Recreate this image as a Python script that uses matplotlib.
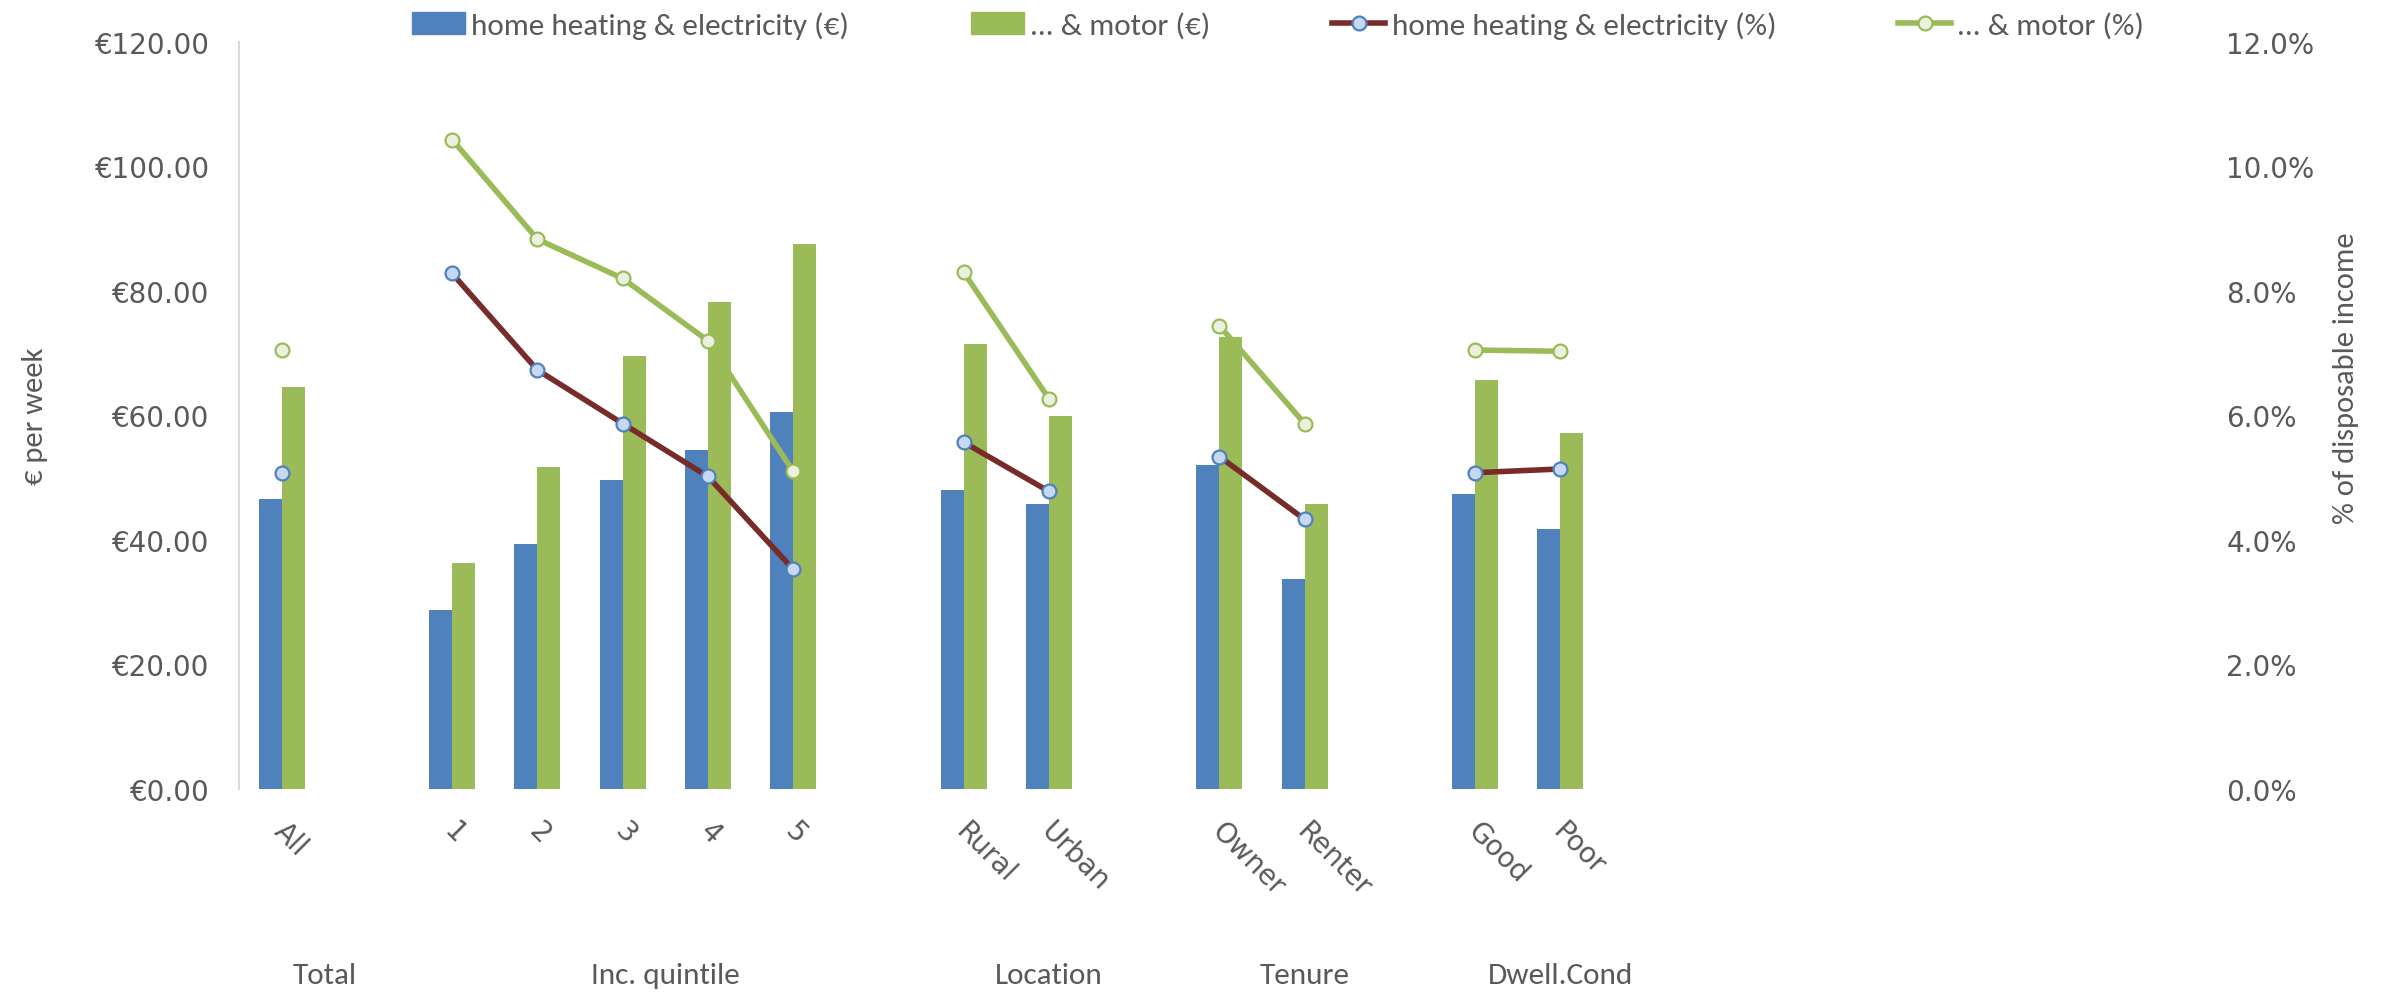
import numpy as np
import matplotlib
matplotlib.use('Agg')
import matplotlib.pyplot as plt
from matplotlib.ticker import FuncFormatter, MultipleLocator
from matplotlib.lines import Line2D
from matplotlib.patches import Patch

nan = np.nan

# 1) Data ===
# category slots (empty strings are blank slots on the axis, as in the original chart)
cats = ['All', '', '1', '2', '3', '4', '5', '', 'Rural', 'Urban', '',
        'Owner', 'Renter', '', 'Good', 'Poor', '', '', '', '', '', '', '']
heat_eur = [46.5, nan, 28.8, 39.4, 49.7, 54.5, 60.6, nan, 48.0, 45.7, nan,
            52.1, 33.8, nan, 47.4, 41.8] + [nan] * 7
motor_eur = [64.6, nan, 36.3, 51.7, 69.6, 78.2, 87.5, nan, 71.5, 59.9, nan,
             72.6, 45.8, nan, 65.7, 57.2] + [nan] * 7
heat_pct = [5.08, nan, 8.28, 6.73, 5.87, 5.02, 3.53, nan, 5.57, 4.78, nan,
            5.34, 4.33, nan, 5.08, 5.14] + [nan] * 7
motor_pct = [7.05, nan, 10.43, 8.83, 8.20, 7.20, 5.10, nan, 8.30, 6.27, nan,
             7.44, 5.87, nan, 7.05, 7.03] + [nan] * 7

groups = ['Total', 'Inc. quintile', 'Location', 'Tenure', 'Dwell.Cond']
group_spans = [(0, 1), (2, 7), (8, 10), (11, 13), (14, 16)]

# 2) Style ===
BLUE = '#4F81BD'
GREEN = '#9BBB59'
BROWN = '#772C2A'
GREY = '#595959'
narrow = ['Carlito', 'DejaVu Sans']

x = np.arange(len(cats))
w = 0.27

fig = plt.figure(figsize=(23.87, 9.95), dpi=100)
ax = fig.add_axes([0.1001, 0.206, 0.8215, 0.751])
ax2 = ax.twinx()

# 3) Bars (left axis) ===
ax.bar(x - w / 2, heat_eur, width=w, color=BLUE, zorder=2)
ax.bar(x + w / 2, motor_eur, width=w, color=GREEN, zorder=2)
ax.set_ylim(0, 120)
ax.set_xlim(-0.5, len(cats) - 0.5)
ax.yaxis.set_major_locator(MultipleLocator(20))
ax.yaxis.set_major_formatter(FuncFormatter(lambda v, p: f'€{v:.2f}'))

# 4) Lines (right axis) ===
line_kw = dict(lw=4, marker='o', ms=10, mew=1.6)
ax2.plot(x, np.array(heat_pct) / 100, color=BROWN, mfc='#C6D9F1', mec=BLUE, zorder=3, **line_kw)
ax2.plot(x, np.array(motor_pct) / 100, color=GREEN, mfc='#EBF1DE', mec=GREEN, zorder=3, **line_kw)
ax2.set_ylim(0, 0.12)
ax2.yaxis.set_major_locator(MultipleLocator(0.02))
ax2.yaxis.set_major_formatter(FuncFormatter(lambda v, p: f'{v * 100:.1f}%'))

# 5) Axes cosmetics ===
for a in (ax, ax2):
    for s in a.spines.values():
        s.set_visible(False)
ax.spines['left'].set_visible(True)
ax.spines['left'].set_color('#D9D9D9')
ax.spines['left'].set_linewidth(1.5)

ax.tick_params(axis='y', length=0, pad=21, labelsize=20, labelcolor=GREY)
ax2.tick_params(axis='y', length=0, pad=19, labelsize=20, labelcolor=GREY)

ax.set_xticks(x)
ax.set_xticklabels([])
ax.tick_params(axis='x', length=0)
for xi, lab in zip(x, cats):
    if lab:
        ax.text(xi - 0.04, -0.05, lab, transform=ax.get_xaxis_transform(),
                rotation=-45, rotation_mode='anchor', ha='left', va='center',
                fontsize=20, color=GREY)

for name, (a, b) in zip(groups, group_spans):
    ax.text((a + b) / 2, -0.249, name, transform=ax.get_xaxis_transform(),
            ha='center', va='center', fontsize=22.5, color=GREY, family=narrow)

ax.set_ylabel('€ per week', fontsize=22, color=GREY, family=narrow)
ax.yaxis.set_label_coords(-0.0974, 0.5)
ax2.set_ylabel('% of disposable income', fontsize=22, color=GREY, family=narrow)
ax2.yaxis.set_label_coords(1.068, 0.551)

# 6) Legend ===
handles = [
    Patch(color=BLUE),
    Patch(color=GREEN),
    Line2D([], [], color=BROWN, mfc='#C6D9F1', mec=BLUE, **line_kw),
    Line2D([], [], color=GREEN, mfc='#EBF1DE', mec=GREEN, **line_kw),
]
labels = ['home heating & electricity (€)', '... & motor (€)',
          'home heating & electricity (%)', '... & motor (%)']
fig.legend(handles, labels, loc='center', bbox_to_anchor=(0.5354, 0.974), ncol=4,
           frameon=False, handlelength=1.7, handletextpad=0.2, columnspacing=3.9,
           prop={'family': narrow, 'size': 22.5}, labelcolor=GREY)

fig.savefig('out.png', dpi=100)
